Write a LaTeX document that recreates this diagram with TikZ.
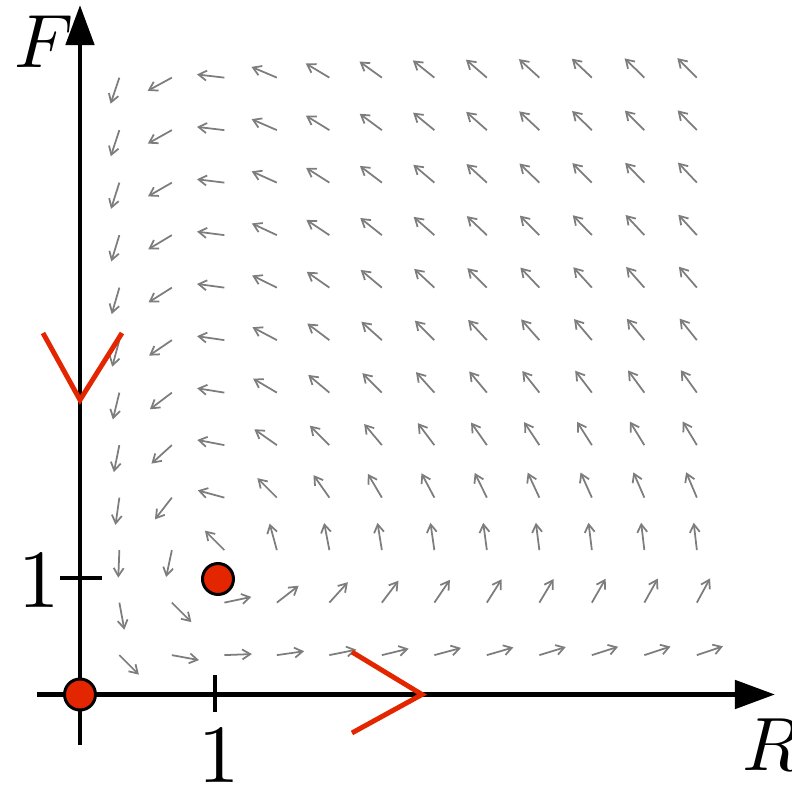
\documentclass[tikz,border=0pt]{standalone}
\usepackage{graphicx}
\usepackage{xcolor}
\usepackage{tikz}
\usetikzlibrary{arrows.meta}

\definecolor{dotred}{RGB}{227,38,0}
\definecolor{flowgray}{RGB}{125,125,125}

\begin{document}
\begin{tikzpicture}[
    x=2.625cm, y=2.625cm,
    lab/.style={inner sep=0pt},
    axis/.style={line width=2.8pt, -{Triangle[length=8mm,width=5.6mm]}},
    axtick/.style={line width=2.8pt},
    flow/.style={flowgray, line width=1pt, -{Straight Barb[length=1.6mm,width=2mm]}},
    chevron/.style={dotred, line width=2.8pt},
    fixpt/.style={circle, draw=black, fill=dotred, line width=1.7pt, minimum size=0.62cm, inner sep=0pt}
]
\useasboundingbox (-0.6095,-0.6895) rectangle (5.4248,5.2914);

% direction field, arrows of equal length
\foreach \i in {0,...,11}{
  \foreach \j in {0,...,11}{
    \pgfmathsetmacro{\rr}{0.3+0.4*\i}
    \pgfmathsetmacro{\ff}{0.3+0.4*\j}
    \pgfmathsetmacro{\ang}{atan2(\ff*(\rr-1),\rr*(1-\ff))}
    \draw[flow] (\rr,\ff) -- ++(\ang:0.21);
  }
}

% axes
\coordinate (xl) at (-0.328,0);
\coordinate (xr) at (5.295,0);
\coordinate (yb) at (0,-0.385);
\coordinate (yt) at (0,5.253);
\draw[axis] (xl) -- (xr);
\draw[axis] (yb) -- (yt);

% ticks
\coordinate (xt1) at (1.0286,0.149);
\coordinate (xt2) at (1.0286,-0.133);
\coordinate (yt1) at (-0.152,0.8876);
\coordinate (yt2) at (0.168,0.8876);
\draw[axtick] (xt1) -- (xt2);
\draw[axtick] (yt1) -- (yt2);

% labels
\node[lab, anchor=west] (labF) at (-0.5,4.975) {\scalebox{4.3}{$F$}};
\node[lab, anchor=west] (labR) at (5.044,-0.385) {\scalebox{4.3}{$R$}};
\node[lab] (labx1) at (1.059,-0.462) {\scalebox{4.7}{1}};
\node[lab] (laby1) at (-0.312,0.872) {\scalebox{4.7}{1}};

% flow along the axes
\draw[chevron] (-0.282,2.754) -- (0,2.244) -- (0.32,2.754);
\draw[chevron] (2.072,0.324) -- (2.606,0) -- (2.072,-0.293);

% fixed points
\node[fixpt] (orig) at (0,0) {};
\node[fixpt] (eq) at (1.0514,0.88) {};

\end{tikzpicture}
\end{document}
